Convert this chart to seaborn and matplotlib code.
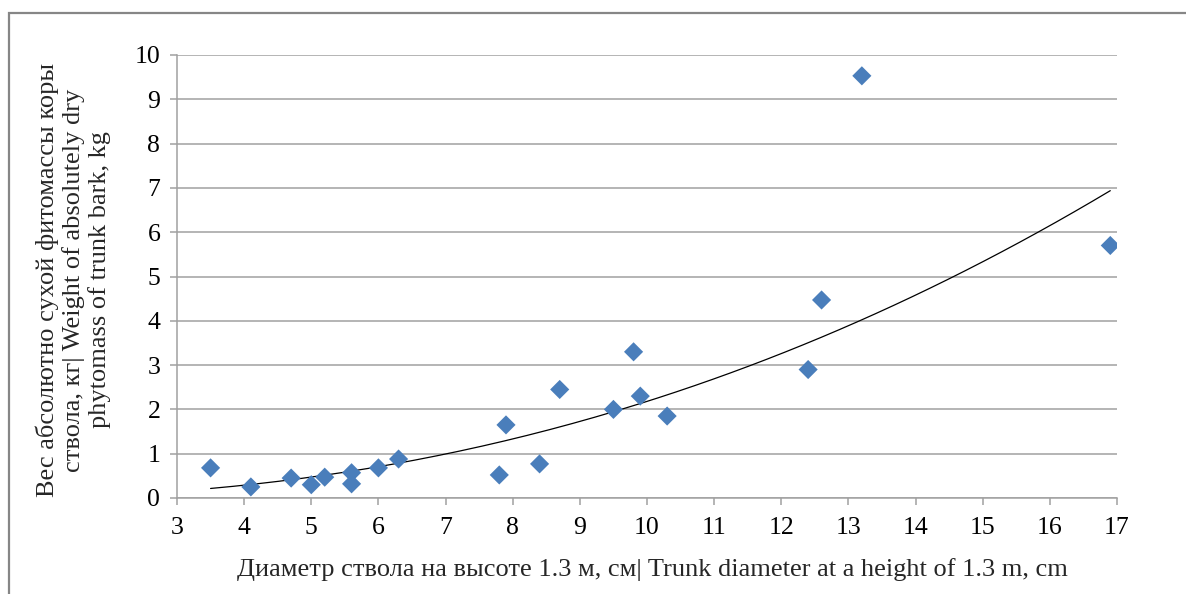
import numpy as np
import pandas as pd
import matplotlib
matplotlib.use("Agg")
import matplotlib.pyplot as plt
from matplotlib.patches import Rectangle
import seaborn as sns

# trunk diameter (cm) and bark dry weight (kg)
diameter = [3.5, 4.1, 4.7, 5.0, 5.2, 5.6, 5.6, 6.0, 6.3, 7.8, 7.9,
            8.4, 8.7, 9.5, 9.8, 9.9, 10.3, 12.4, 12.6, 13.2, 16.9]
bark_weight = [0.68, 0.25, 0.45, 0.30, 0.47, 0.57, 0.32, 0.68, 0.88, 0.52, 1.65,
               0.77, 2.45, 2.00, 3.30, 2.30, 1.85, 2.90, 4.47, 9.53, 5.70]
x_ticks = list(range(3, 18))
y_ticks = list(range(0, 11))

xlabel = "Диаметр ствола на высоте 1.3 м, см| Trunk diameter at a height of 1.3 m, cm"
ylabel = ("Вес абсолютно сухой фитомассы коры\n"
          "ствола, кг| Weight of absolutely dry\n"
          "phytomass of trunk bark, kg")

df = pd.DataFrame({"d": diameter, "w": bark_weight})

sns.set_theme(style="white")
plt.rcParams["font.family"] = ["Liberation Serif", "DejaVu Serif"]

fig = plt.figure(figsize=(11.86, 5.94), dpi=100)
ax = fig.add_axes([177 / 1186, 96 / 594, 940 / 1186, 443 / 594])

# power trendline (least squares in log-log, like a spreadsheet "power" trend)
b, log_a = np.polyfit(np.log(df["d"]), np.log(df["w"]), 1)
xs = np.linspace(df["d"].min(), df["d"].max(), 200)
ax.plot(xs, np.exp(log_a) * xs ** b, color="black", lw=0.9, zorder=2)

sns.scatterplot(data=df, x="d", y="w", marker="D", s=95, color="#4A7EBB",
                edgecolor="none", ax=ax, zorder=3)

ax.set_xlim(3, 17)
ax.set_ylim(0, 10)
ax.set_xticks(x_ticks)
ax.set_yticks(y_ticks)
ax.yaxis.grid(True, color="#a0a0a0", lw=1.1)
ax.xaxis.grid(False)
for s in ["top", "right"]:
    ax.spines[s].set_visible(False)
for s in ["left", "bottom"]:
    ax.spines[s].set_color("#a0a0a0")
    ax.spines[s].set_linewidth(1.1)
ax.tick_params(axis="both", which="major", direction="out", length=5,
               width=1.1, color="#a0a0a0", labelsize=18.5, labelcolor="black",
               bottom=True, left=True)
ax.tick_params(axis="x", pad=9)
ax.tick_params(axis="y", pad=7)
ax.set_xlabel("")
ax.set_ylabel("")

fig.text(652 / 1186, 1 - 570 / 594, xlabel, fontsize=19, ha="center", va="center")
fig.text(73 / 1186, 1 - 280 / 594, ylabel, fontsize=19, ha="center", va="center",
         rotation=90, multialignment="center", linespacing=1.18)

fig.patches.append(Rectangle((9 / 1186, -0.1), 1.2, (594 - 13) / 594 + 0.1,
                             transform=fig.transFigure, fill=False,
                             edgecolor="#868686", lw=1.6))

fig.savefig("out.png", dpi=100)
